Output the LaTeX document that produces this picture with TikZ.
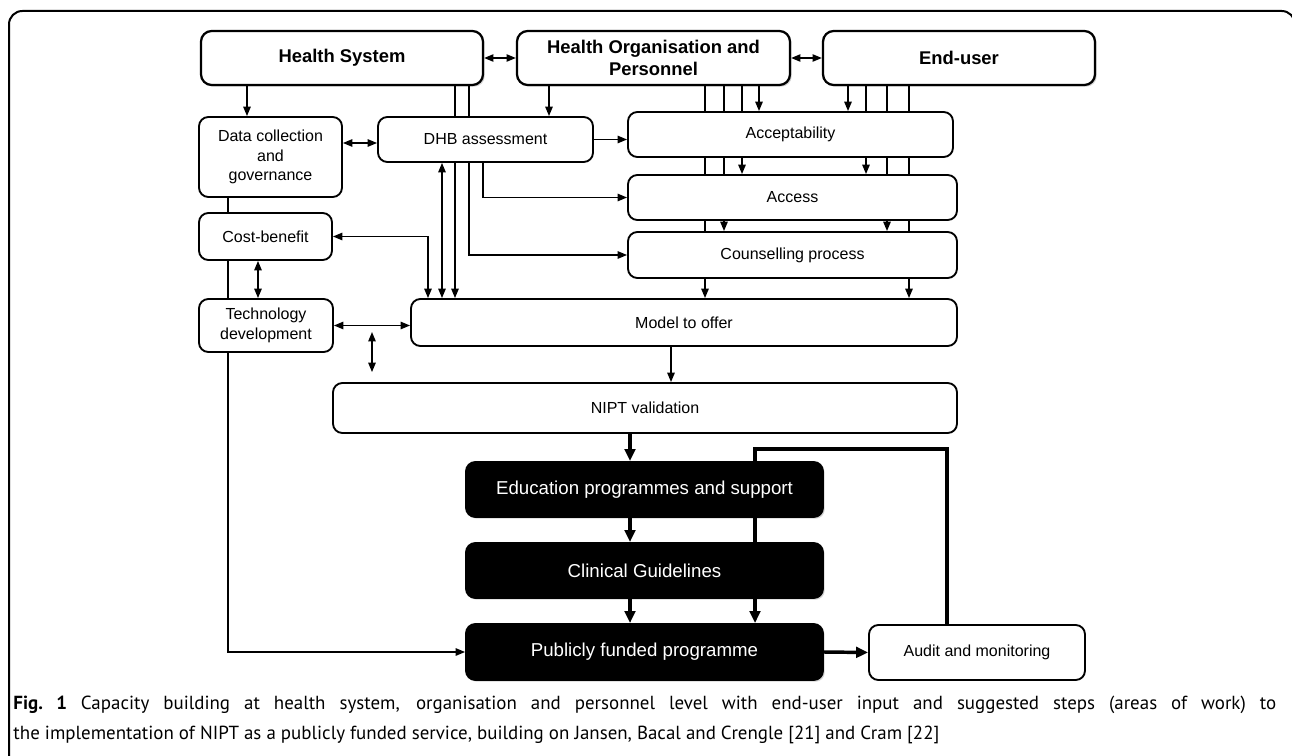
\documentclass[tikz,border=0pt]{standalone}
\usepackage{fontspec}
\setmainfont{Liberation Sans}
\newfontfamily\capfont{PT Sans}
\usetikzlibrary{arrows.meta,shadows}

\tikzset{every picture/.style={line width=0.75pt}}
\tikzset{
  sz/.style 2 args={minimum width={0.75pt*#1},minimum height={0.75pt*#2}},
  headbox/.style={draw,line width=1.7pt,rounded corners=8pt,fill=white,inner sep=0pt,align=center,
    font=\bfseries\fontsize{13.8}{16.5}\selectfont,
    drop shadow={shadow xshift=1.3pt,shadow yshift=-1.3pt,opacity=0.35}},
  stepbox/.style={draw,line width=1.4pt,rounded corners=7pt,fill=white,inner sep=0pt,align=center,
    font=\fontsize{12}{14.5}\selectfont},
  blackbox/.style={draw,line width=1.4pt,rounded corners=7pt,fill=black,text=white,inner sep=0pt,align=center,
    font=\fontsize{14}{17}\selectfont,
    drop shadow={shadow xshift=1.3pt,shadow yshift=-1.3pt,opacity=0.35}},
  thinln/.style={line width=1.1pt},
  thinarr/.style={line width=1.1pt,-{Triangle[length=7pt,width=5.5pt]}},
  thinbi/.style={line width=1.1pt,{Triangle[length=7pt,width=5.5pt]}-{Triangle[length=7pt,width=5.5pt]}},
  thickln/.style={line width=2.6pt},
  thickarr/.style={line width=2.6pt,-{Triangle[length=9pt,width=8pt]}},
}

\begin{document}
\begin{tikzpicture}[x=0.75pt,y=0.75pt,yscale=-1,xscale=1]
\useasboundingbox (0,0) rectangle (1292,756);

%Frame
\draw [line width=1.5pt,rounded corners=10pt] (9,760) -- (9,11) -- (1295,11) -- (1295,760) ;

%Rounded Rect: levels
\node [headbox,sz={282}{54}] (hs) at (342,58) {Health System};
\node [headbox,sz={273}{54}] (ho) at (653.5,58) {Health Organisation and\\Personnel};
\node [headbox,sz={272}{54}] (eu) at (959,58) {End-user};

%Rounded Rect: areas of work
\node [stepbox,sz={143}{80}] (dc) at (270.5,157) {Data collection\\and\\governance};
\node [stepbox,sz={215}{45}] (dhb) at (485.5,139.5) {DHB assessment};
\node [stepbox,sz={325}{45}] (acc) at (790.5,134.5) {Acceptability};
\node [stepbox,sz={329}{45}] (axs) at (792.5,197.5) {Access};
\node [stepbox,sz={329}{46}] (cou) at (792.5,255) {Counselling process};
\node [stepbox,sz={133}{47}] (cb) at (265.5,236.5) {Cost-benefit};
\node [stepbox,sz={134}{53}] (td) at (266,325.5) {Technology\\development};
\node [stepbox,sz={546}{47}] (mo) at (684,322.5) {Model to offer};
\node [stepbox,sz={624}{50}] (nv) at (645,408) {NIPT validation};

%Rounded Rect: steps
\node [blackbox,sz={357}{55}] (edu) at (644.5,489.5) {Education programmes and support};
\node [blackbox,sz={357}{55}] (cg) at (644.5,570.5) {Clinical Guidelines};
\node [blackbox,sz={357}{56}] (pf) at (644.5,652) {Publicly funded programme};
\node [stepbox,sz={216}{55}] (au) at (977,652.5) {Audit and monitoring};

%Straight Lines: top row
\draw [thinbi] (hs.east) -- (ho.west) ;
\draw [thinbi] (ho.east) -- (eu.west) ;
\draw [thinarr] (247,0 |- hs.south) -- (247,0 |- dc.north) ;
\draw [thinarr] (549,0 |- ho.south) -- (549,0 |- dhb.north) ;
\draw [thinbi] (dc.east |- 0,143) -- (dhb.west |- 0,143) ;
\draw [thinarr] (dhb.east) -- (acc.west |- dhb.east) ;

%Straight Lines: health system through DHB
\draw [thinln] (455,0 |- hs.south) -- (455,0 |- dhb.north) ;
\draw [thinln] (469,0 |- hs.south) -- (469,0 |- dhb.north) ;
\draw [thinarr] (455,0 |- dhb.south) -- (455,0 |- mo.north) ;
\draw [thinarr] (469,0 |- dhb.south) -- (469,0 |- cou.west) -- (cou.west) ;
\draw [thinarr] (483,0 |- dhb.south) -- (483,0 |- axs.west) -- (axs.west) ;
\draw [thinbi] (442,0 |- dhb.south) -- (442,0 |- mo.north) ;
\draw [thinbi] (cb.east) -- (428,0 |- cb.east) -- (428,0 |- mo.north) ;

%Straight Lines: organisation and personnel
\draw [thinarr] (759,0 |- ho.south) -- (759,0 |- acc.north) ;
\draw [thinln] (742,0 |- ho.south) -- (742,0 |- acc.north) ;
\draw [thinarr] (742,0 |- acc.south) -- (742,0 |- axs.north) ;
\draw [thinln] (724,0 |- ho.south) -- (724,0 |- acc.north) ;
\draw [thinln] (724,0 |- acc.south) -- (724,0 |- axs.north) ;
\draw [thinarr] (724,0 |- axs.south) -- (724,0 |- cou.north) ;
\draw [thinln] (705,0 |- ho.south) -- (705,0 |- acc.north) ;
\draw [thinln] (705,0 |- acc.south) -- (705,0 |- axs.north) ;
\draw [thinln] (705,0 |- axs.south) -- (705,0 |- cou.north) ;
\draw [thinarr] (705,0 |- cou.south) -- (705,0 |- mo.north) ;

%Straight Lines: end-user
\draw [thinarr] (848,0 |- eu.south) -- (848,0 |- acc.north) ;
\draw [thinln] (866,0 |- eu.south) -- (866,0 |- acc.north) ;
\draw [thinarr] (866,0 |- acc.south) -- (866,0 |- axs.north) ;
\draw [thinln] (887,0 |- eu.south) -- (887,0 |- acc.north) ;
\draw [thinln] (887,0 |- acc.south) -- (887,0 |- axs.north) ;
\draw [thinarr] (887,0 |- axs.south) -- (887,0 |- cou.north) ;
\draw [thinln] (909,0 |- eu.south) -- (909,0 |- acc.north) ;
\draw [thinln] (909,0 |- acc.south) -- (909,0 |- axs.north) ;
\draw [thinln] (909,0 |- axs.south) -- (909,0 |- cou.north) ;
\draw [thinarr] (909,0 |- cou.south) -- (909,0 |- mo.north) ;

%Straight Lines: left column
\draw [thinln] (228,0 |- dc.south) -- (228,0 |- cb.north) ;
\draw [thinln] (228,0 |- cb.south) -- (228,0 |- td.north) ;
\draw [thinarr] (228,0 |- td.south) -- (228,0 |- pf.west) -- (pf.west) ;
\draw [thinbi] (258,0 |- cb.south) -- (258,0 |- td.north) ;
\draw [thinbi] (td.east) -- (mo.west |- td.east) ;
\coordinate (tv) at (372,332) ;
\draw [thinbi,shorten >=7.5pt] (tv) -- (tv |- nv.north) ;
\draw [thinarr] (671,0 |- mo.south) -- (671,0 |- nv.north) ;

%Straight Lines: steps
\draw [thickarr] (630,0 |- nv.south) -- (630,0 |- edu.north) ;
\draw [thickarr] (630,0 |- edu.south) -- (630,0 |- cg.north) ;
\draw [thickarr] (630,0 |- cg.south) -- (630,0 |- pf.north) ;
\draw [thickarr] (pf.east) -- (au.west) ;
\draw [thickln] (947,0 |- au.north) -- (947,449) -- (755,449) -- (755,0 |- edu.north) ;
\draw [thickln] (755,0 |- edu.south) -- (755,0 |- cg.north) ;
\draw [thickarr] (755,0 |- cg.south) -- (755,0 |- pf.north) ;

% Text Node
\node [anchor=north west,inner sep=0pt,text width=947pt,align=justify,font=\capfont\fontsize{14.2}{22.5}\selectfont] (cap) at (13,696)
  {\textbf{Fig.~1} Capacity building at health system, organisation and personnel level with end-user input and suggested steps (areas of work) to\linebreak
   the implementation of NIPT as a publicly funded service, building on Jansen, Bacal and Crengle [21] and Cram [22]};

\end{tikzpicture}
\end{document}
